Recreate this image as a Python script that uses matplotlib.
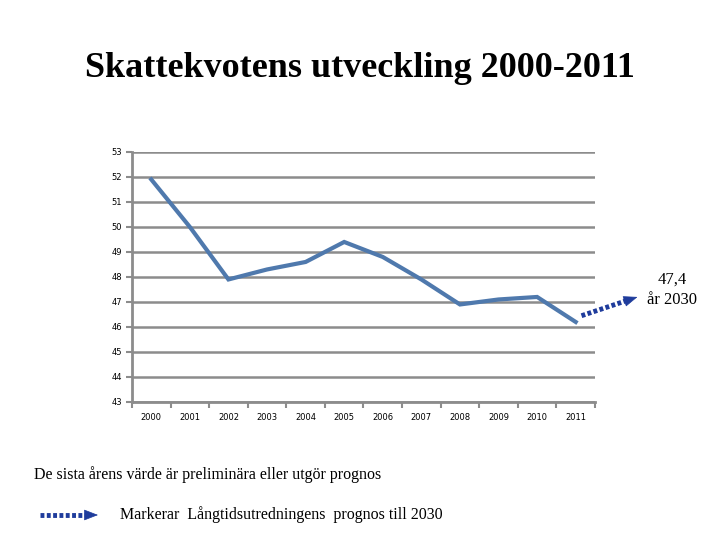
import numpy as np
import matplotlib.pyplot as plt

years = ['2000', '2001', '2002', '2003', '2004', '2005',
         '2006', '2007', '2008', '2009', '2010', '2011']
kvot = [51.9, 50.0, 47.9, 48.3, 48.6, 49.4, 48.8, 47.9, 46.9, 47.1, 47.2, 46.2]
forecast_label = '47,4\når 2030'

line_col = '#4f79ad'
grid_col = '#8c8c8c'
arrow_col = '#1f3c9c'


def dotted_arrow(axis, x0, y0, x1, y1, frac=0.8, **kw):
    # dotted shaft + solid triangular head
    xm = x0 + (x1 - x0) * frac
    ym = y0 + (y1 - y0) * frac
    axis.plot([x0, xm], [y0, ym], color=arrow_col, lw=3.5,
              linestyle=(0, (0.8, 0.5)), dash_capstyle='butt', clip_on=False, **kw)
    axis.annotate('', xy=(x1, y1), xytext=(xm, ym),
                  arrowprops=dict(arrowstyle='-|>,head_length=0.9,head_width=0.35',
                                  color=arrow_col, lw=0.5, shrinkA=0, shrinkB=0),
                  annotation_clip=False)


fig = plt.figure(figsize=(7.2, 5.4), dpi=100)
ax = fig.add_axes([0.1833, 0.2556, 0.6431, 0.4630])

x = np.arange(len(years))
ax.plot(x, kvot, color=line_col, lw=3, solid_joinstyle='miter', zorder=3)

ax.set_xlim(-0.5, len(years) - 0.5)
ax.set_ylim(43, 53)
ax.set_yticks(range(43, 54))
ax.set_yticklabels([str(v) for v in range(43, 54)], fontsize=6, family='DejaVu Sans')
ax.set_xticks(x)
ax.set_xticklabels(years, fontsize=6, family='DejaVu Sans')
ax.set_xticks(np.arange(-0.5, len(years)), minor=True)
ax.tick_params(axis='x', which='major', length=0, pad=8)
ax.tick_params(axis='x', which='minor', length=4, width=1.5, color=grid_col)
ax.tick_params(axis='y', length=4, width=1.5, color=grid_col, pad=3)

ax.grid(axis='y', color=grid_col, lw=1.8)
ax.set_axisbelow(True)
for s in ['top', 'right']:
    ax.spines[s].set_visible(False)
for s in ['left', 'bottom']:
    ax.spines[s].set_color(grid_col)
    ax.spines[s].set_linewidth(2)

# forecast arrow to 2030
dotted_arrow(ax, 11.15, 46.45, 12.6, 47.2, zorder=4)
ax.text(13.5, 47.5, forecast_label, ha='center', va='center',
        fontsize=12, family='Liberation Serif', linespacing=1.35)

fig.text(0.5, 0.873, 'Skattekvotens utveckling 2000-2011', ha='center', va='center',
         fontsize=26, fontweight='bold', family='Liberation Serif')
fig.text(0.047, 0.122, 'De sista årens värde är preliminära eller utgör prognos',
         ha='left', va='center', fontsize=11.5, family='Liberation Serif')

ax2 = fig.add_axes([0, 0, 1, 1], facecolor='none')
ax2.set_axis_off()
ax2.set_xlim(0, 720)
ax2.set_ylim(540, 0)
dotted_arrow(ax2, 40, 515, 98, 515, frac=0.78)
ax2.text(120, 515, 'Markerar  Långtidsutredningens  prognos till 2030',
         ha='left', va='center', fontsize=11.5, family='Liberation Serif')

fig.savefig('out.png', dpi=100)
